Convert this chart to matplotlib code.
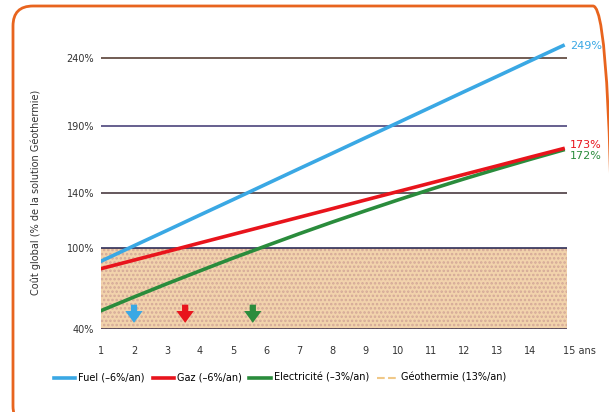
import numpy as np
import matplotlib
matplotlib.use("Agg")
import matplotlib.pyplot as plt
from matplotlib.patches import FancyBboxPatch
from matplotlib.transforms import IdentityTransform, offset_copy

years = list(range(1, 16))
fuel = [90, 101.4, 112.7, 124.1, 135.4, 146.8, 158.2, 169.5, 180.9, 192.2, 203.6, 215, 226.3, 237.7, 249]
gaz = [84.5, 90.8, 97.1, 103.5, 109.8, 116.1, 122.4, 128.7, 135.1, 141.4, 147.7, 154, 160.3, 166.7, 173]
elec = [53.5, 63.6, 73.4, 82.9, 92.3, 101.3, 110.2, 118.8, 127.1, 135.2, 143.1, 150.7, 158, 165.1, 172]
geo = 100
levels = [40, 100, 140, 190, 240]
level_colors = ['#3a2f4a', '#1c1c4c', '#3a2a30', '#3c3470', '#4a3024']
end_labels = ['249%', '173%', '172%']
arrow_x = [2, 3.55, 5.6]

c_fuel, c_gaz, c_elec, c_geo = '#3aa8e4', '#e8141c', '#2a8c3c', '#f0c888'

fig = plt.figure(figsize=(6.09, 4.12), dpi=100)
ax = fig.add_axes([101/609, 83/412, 466/609, 301/412])
ax.set_xlim(1, 15.12)
ax.set_ylim(40, 262)

# zone geothermie
plt.rcParams['hatch.linewidth'] = 1.2
ax.fill_between([1, 15.12], 40, geo, facecolor='#f2d3ac', hatch='....',
                edgecolor='#d4a898', linewidth=0, zorder=1)

for lv, lc in zip(levels, level_colors):
    ax.axhline(lv, color=lc, lw=1.1, zorder=2)

ax.plot(years, elec, color=c_elec, lw=2.6, zorder=3, label='Electricité (–3%/an)')
ax.plot(years, gaz, color=c_gaz, lw=2.6, zorder=4, label='Gaz (–6%/an)')
ax.plot(years, fuel, color=c_fuel, lw=2.6, zorder=5, label='Fuel (–6%/an)')
ax.plot([], [], color=c_geo, lw=1.5, ls='--', label='Géothermie (13%/an)')

# valeurs finales
ax.text(15.2, fuel[-1], end_labels[0], color=c_fuel, fontsize=8, va='center', ha='left', clip_on=False)
ax.text(15.2, gaz[-1] + 2.5, end_labels[1], color=c_gaz, fontsize=8, va='center', ha='left', clip_on=False)
ax.text(15.2, elec[-1] - 4.5, end_labels[2], color=c_elec, fontsize=8, va='center', ha='left', clip_on=False)

for xa, ca in zip(arrow_x, [c_fuel, c_gaz, c_elec]):
    ax.annotate('', xy=(xa, 42.5), xytext=(xa, 60),
                arrowprops=dict(arrowstyle='simple,head_width=1.25,head_length=0.85,tail_width=0.45',
                                color=ca, lw=0), zorder=6)

for s in ax.spines.values():
    s.set_visible(False)
ax.set_yticks(levels)
ax.set_yticklabels([f'{v}%' for v in levels], fontsize=7, color='#333333')
ax.set_xticks(years)
labs = ax.set_xticklabels([str(y) for y in years[:-1]] + ['15 ans'], fontsize=7, color='#333333')
labs[-1].set_ha('left')
labs[-1].set_transform(offset_copy(labs[-1].get_transform(), fig=fig, x=-6, units='dots'))
ax.tick_params(length=0, pad=12, axis='x')
ax.tick_params(length=0, pad=5, axis='y')

fig.text(36/609, 1 - 192/412, 'Coût global (% de la solution Géothermie)', rotation=90,
         fontsize=7, color='#333333', ha='center', va='center')

h, l = ax.get_legend_handles_labels()
order = [2, 1, 0, 3]
fig.legend([h[i] for i in order], [l[i] for i in order], ncol=4, frameon=False,
           loc='center', bbox_to_anchor=(0.46, 1 - 378/412), fontsize=7,
           handlelength=2.2, handletextpad=0.3, columnspacing=0.8)

border = FancyBboxPatch((13, -14), 600, 420, boxstyle='round,pad=0,rounding_size=20',
                        transform=IdentityTransform(), facecolor='none',
                        edgecolor='#e8641e', lw=2)
fig.patches.append(border)

fig.savefig('out.png', dpi=100)
